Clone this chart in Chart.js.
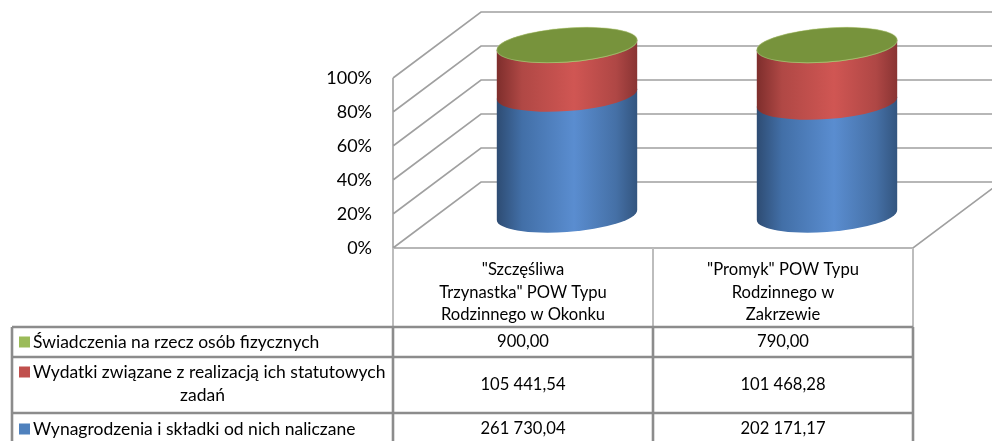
<!DOCTYPE html>
<html>
<head>
<meta charset="utf-8">
<script src="https://cdn.jsdelivr.net/npm/chart.js@4/dist/chart.umd.min.js"></script>
<style>
  html, body { margin: 0; padding: 0; background: #fff; }
</style>
</head>
<body>
<canvas id="chart3d" width="992" height="441"></canvas>
<script>
// Dane

const categories = [
  ["\"Szczęśliwa", "Trzynastka\" POW Typu", "Rodzinnego w Okonku"],
  ["\"Promyk\" POW Typu", "Rodzinnego w", "Zakrzewie"],
];
const seriesNames = [
  "Wynagrodzenia i składki od nich naliczane",
  "Wydatki związane z realizacją ich statutowych zadań",
  "Świadczenia na rzecz osób fizycznych",
];
const wynagrodzenia = [261730.04, 202171.17];
const wydatki = [105441.54, 101468.28];
const swiadczenia = [900.0, 790.0];
const yTicks = [0, 20, 40, 60, 80, 100];

const seriesColors = ["#4F81BD", "#C0504D", "#9BBB59"];
const gradStops = [
  ["#2E4C73", "#426FA7", "#5A8DD0", "#4570A6", "#33557F"],
  ["#7E2E2C", "#B04845", "#D05653", "#AF4745", "#893433"],
  ["#5E7630", "#8AAA4E", "#A3C462", "#89A94D", "#627A33"],
];
const topColor = "#77933C";

const raw = [wynagrodzenia, wydatki, swiadczenia];
const totals = categories.map((_, i) => raw.reduce((s, arr) => s + arr[i], 0));
const percent = raw.map((arr) => arr.map((v, i) => (v / totals[i]) * 100));

const DX = 88, DY = -66; // glebokosc 3D
const FONT = "Lato, 'Open Sans', sans-serif";

function fmt(v) {
  const parts = v.toFixed(2).split(".");
  const int = parts[0].replace(/\B(?=(\d{3})+(?!\d))/g, " ");
  return int + "," + parts[1];
}

// sciany i podloga
const walls3d = {
  id: "walls3d",
  beforeDatasetsDraw(chart) {
    const { ctx, chartArea: ca, scales } = chart;
    const y = scales.y;
    ctx.save();
    ctx.strokeStyle = "#A0A0A0";
    ctx.lineWidth = 1.6;
    ctx.beginPath();
    yTicks.forEach((v) => {
      const yy = y.getPixelForValue(v);
      ctx.moveTo(ca.left, yy);
      ctx.lineTo(ca.left + DX, yy + DY);
      ctx.lineTo(ca.right + DX + 20, yy + DY);
    });
    ctx.moveTo(ca.left, ca.top);
    ctx.lineTo(ca.left, ca.bottom);
    ctx.lineTo(ca.right, ca.bottom);
    ctx.lineTo(ca.right + DX, ca.bottom + DY);
    ctx.stroke();
    ctx.restore();
  },
};

// cylindry
const cylinders = {
  id: "cylinders",
  afterDatasetsDraw(chart) {
    const ctx = chart.ctx;
    const metas = chart.data.datasets.map((_, d) => chart.getDatasetMeta(d));
    const k = -0.07, b = 17;
    categories.forEach((_, i) => {
      const first = metas[0].data[i];
      const a = first.width / 2;
      const cx = first.x + DX / 2;
      ctx.save();
      ctx.translate(cx, DY / 2);
      ctx.transform(1, k, 0, 1, 0, 0);
      metas.forEach((meta, d) => {
        const el = meta.data[i];
        const yTop = el.y, yBot = el.base;
        const g = ctx.createLinearGradient(-a, 0, a, 0);
        const st = gradStops[d];
        [0, 0.18, 0.55, 0.85, 1].forEach((p, j) => g.addColorStop(p, st[j]));
        ctx.fillStyle = g;
        ctx.beginPath();
        ctx.moveTo(-a, yTop);
        ctx.lineTo(-a, yBot);
        ctx.ellipse(0, yBot, a, b, 0, Math.PI, 0, true);
        ctx.lineTo(a, yTop);
        ctx.ellipse(0, yTop, a, b, 0, 0, Math.PI, true);
        ctx.closePath();
        ctx.fill();
      });
      const topY = metas[metas.length - 1].data[i].y;
      ctx.fillStyle = topColor;
      ctx.beginPath();
      ctx.ellipse(0, topY, a, b, 0, 0, Math.PI * 2);
      ctx.fill();
      ctx.strokeStyle = "rgba(190,210,140,0.5)";
      ctx.lineWidth = 1;
      ctx.stroke();
      ctx.restore();
    });
  },
};

// tabela danych
const dataTable = {
  id: "dataTable",
  afterDraw(chart) {
    const { ctx, chartArea: ca } = chart;
    const xs = [12, ca.left, (ca.left + ca.right) / 2, ca.right];
    const rows = [ca.bottom, 327, 357, 413, 470];
    const colMid = [(xs[1] + xs[2]) / 2, (xs[2] + xs[3]) / 2];
    ctx.save();

    // linie naglowka
    ctx.strokeStyle = "#BDBDBD";
    ctx.lineWidth = 2;
    ctx.beginPath();
    [xs[1], xs[2], xs[3]].forEach((x) => {
      ctx.moveTo(x, rows[0]);
      ctx.lineTo(x, rows[1]);
    });
    ctx.stroke();

    // linie tabeli
    ctx.strokeStyle = "#8C8C8C";
    ctx.lineWidth = 2.6;
    ctx.beginPath();
    [rows[1], rows[2], rows[3]].forEach((yy) => {
      ctx.moveTo(xs[0], yy);
      ctx.lineTo(xs[3], yy);
    });
    xs.forEach((x) => {
      ctx.moveTo(x, rows[1]);
      ctx.lineTo(x, 441);
    });
    ctx.stroke();

    ctx.fillStyle = "#000";
    ctx.font = "16.6px " + FONT;
    ctx.textAlign = "center";
    ctx.textBaseline = "middle";
    chart.data.labels.forEach((lines, c) => {
      lines.forEach((ln, j) => ctx.fillText(ln, colMid[c], 270 + j * 22.5));
    });

    // wiersze: od gory zielony, czerwony, niebieski
    const order = [2, 1, 0];
    const rowText = [[342], [372, 395], [429]];
    order.forEach((s, r) => {
      const ys = rowText[r];
      const midY = (rows[r + 1] + rows[r + 2]) / 2;
      const vY = r === 2 ? 429 : midY;
      ctx.fillStyle = seriesColors[s];
      ctx.fillRect(19, ys[0] - 5.5, 11, 11);
      ctx.fillStyle = "#000";
      ctx.textAlign = "left";
      ctx.font = "17.5px " + FONT;
      if (s === 1) {
        ctx.fillText("Wydatki związane z realizacją ich statutowych", 33, ys[0]);
        ctx.textAlign = "center";
        ctx.fillText("zadań", (xs[0] + xs[1]) / 2, ys[1]);
      } else {
        ctx.fillText(seriesNames[s], 33, ys[0]);
      }
      ctx.textAlign = "center";
      ctx.font = "16.6px " + FONT;
      raw[s].forEach((v, c) => ctx.fillText(fmt(v), colMid[c], vY));
    });
    ctx.restore();
  },
};

const myChart = new Chart(document.querySelector("#chart3d"), {
  type: "bar",
  data: {
    labels: categories,
    datasets: seriesNames.map((name, d) => ({
      label: name,
      data: percent[d],
      backgroundColor: "rgba(0,0,0,0)",
      borderWidth: 0,
      barPercentage: 0.54,
      categoryPercentage: 1,
    })),
  },
  options: {
    responsive: false,
    animation: false,
    events: [],
    layout: {
      padding: { top: 78, bottom: 193, right: 79, left: 0 },
    },
    plugins: {
      legend: { display: false },
      tooltip: { enabled: false },
    },
    scales: {
      x: {
        stacked: true,
        display: false,
      },
      y: {
        stacked: true,
        min: 0,
        max: 100,
        afterFit: (s) => { s.width = 393; },
        grid: { display: false },
        border: { display: false },
        ticks: {
          stepSize: 20,
          padding: 13,
          color: "#000",
          font: { family: FONT, size: 18 },
          callback: (v) => v + "%",
        },
      },
    },
  },
  plugins: [walls3d, cylinders, dataTable],
});
</script>
</body>
</html>
